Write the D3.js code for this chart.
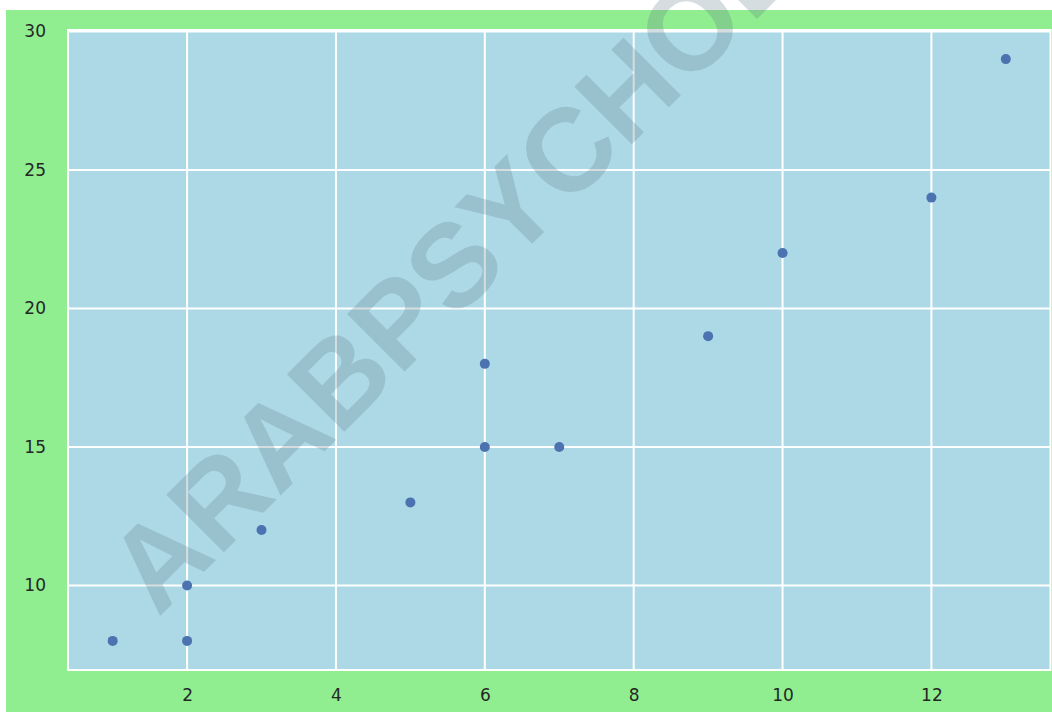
<!DOCTYPE html>
<html>
<head>
<meta charset="utf-8">
<script src="https://cdn.jsdelivr.net/npm/d3@7"></script>
<style>
  html, body { margin: 0; padding: 0; background: #ffffff; }
  svg { display: block; }
</style>
</head>
<body>
<svg id="chart" width="1052" height="713"></svg>
<script>
// Data
const xValues = [1, 2, 2, 3, 5, 6, 6, 7, 9, 10, 12, 13];
const yValues = [8, 8, 10, 12, 13, 15, 18, 15, 19, 22, 24, 29];
const xTicks = [2, 4, 6, 8, 10, 12];
const yTicks = [10, 15, 20, 25, 30];
const watermarkText = "ARABPSYCHOLOGY";

(function () {
const svg = d3.select("#chart");
const W = 1052, H = 713;

// figure background
svg.append("rect").attr("x", 6).attr("y", 10).attr("width", W - 6).attr("height", 702)
  .attr("fill", "#90EE90");

const pL = 68, pR = 1050.5, pT = 30, pB = 670;
const x = d3.scaleLinear().domain([0.4, 13.6]).range([pL, pR]);
const y = d3.scaleLinear().domain([6.95, 30.05]).range([pB, pT]);

// plot area
svg.append("rect").attr("x", pL).attr("y", pT)
  .attr("width", pR - pL).attr("height", pB - pT)
  .attr("fill", "#ADD8E6");

// grid lines
svg.append("g").selectAll("line").data(xTicks).join("line")
  .attr("x1", d => x(d)).attr("x2", d => x(d))
  .attr("y1", pT).attr("y2", pB)
  .attr("stroke", "#ffffff").attr("stroke-width", 2);
svg.append("g").selectAll("line").data(yTicks).join("line")
  .attr("x1", pL).attr("x2", pR)
  .attr("y1", d => y(d)).attr("y2", d => y(d))
  .attr("stroke", "#ffffff").attr("stroke-width", 2);

// spines (white)
svg.append("rect").attr("x", pL).attr("y", pT)
  .attr("width", pR - pL).attr("height", pB - pT)
  .attr("fill", "none").attr("stroke", "#ffffff").attr("stroke-width", 2);

// tick labels via d3 axes
const xAxis = d3.axisBottom(x).tickValues(xTicks).tickSize(0).tickPadding(19);
const yAxis = d3.axisLeft(y).tickValues(yTicks).tickSize(0).tickPadding(22);
const gx = svg.append("g").attr("transform", `translate(0,${pB})`).call(xAxis);
const gy = svg.append("g").attr("transform", `translate(${pL},0)`).call(yAxis);
[gx, gy].forEach(g => {
  g.select(".domain").remove();
  g.selectAll("text")
    .attr("fill", "#262626")
    .style("font-family", "'DejaVu Sans', sans-serif")
    .style("font-size", "17px");
});

// points
svg.append("g").selectAll("circle").data(xValues.map((v, i) => [v, yValues[i]])).join("circle")
  .attr("cx", d => x(d[0])).attr("cy", d => y(d[1]))
  .attr("r", 5).attr("fill", "#4C72B0");

// watermark
svg.append("text")
  .attr("transform", "translate(158,618) rotate(-45)")
  .attr("fill", "rgb(90,120,130)")
  .attr("fill-opacity", 0.25)
  .style("font-family", "'Liberation Sans', Arial, sans-serif")
  .style("font-weight", "bold")
  .style("font-size", "118px")
  .text(watermarkText);
})();
</script>
</body>
</html>
